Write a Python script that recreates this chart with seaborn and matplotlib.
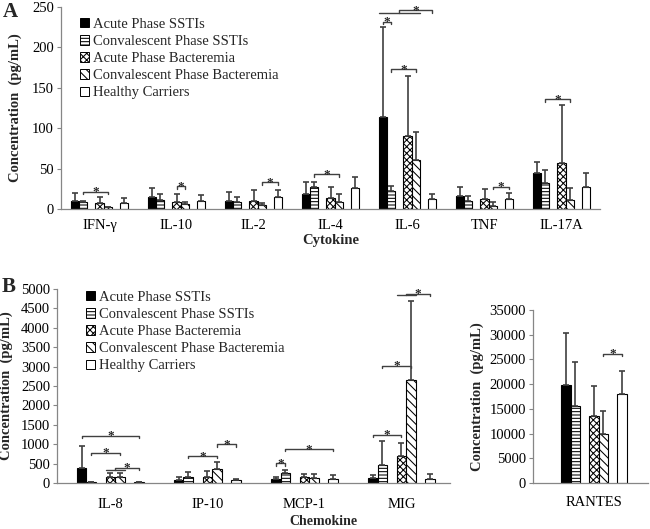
# Citocinas e quimiocinas por grupo clínico - barras com desvio padrão

import numpy as np
import pandas as pd
import seaborn as sns
import matplotlib.pyplot as plt
from matplotlib.patches import Patch


# Grupos (ordem da legenda)
groups = ["Acute Phase SSTIs", "Convalescent Phase SSTIs", "Acute Phase Bacteremia",
          "Convalescent Phase Bacteremia", "Healthy Carriers"]

# Painel A - citocinas (pg/mL), uma linha por grupo
cytokines = ["IFN-γ", "IL-10", "IL-2", "IL-4", "IL-6", "TNF", "IL-17A"]
cyto_mean = [
    [9.5, 14.6, 9.8, 18.5, 113.3, 16.0, 45.0],
    [8.5, 11.0, 9.0, 27.6, 22.2, 9.9, 32.5],
    [7.7, 9.0, 10.0, 14.0, 90.2, 12.0, 56.8],
    [2.0, 6.5, 5.0, 8.2, 60.5, 4.0, 11.0],
    [7.3, 9.8, 15.0, 26.4, 12.4, 12.4, 27.0],
]
cyto_sd = [
    [10.0, 11.0, 11.0, 15.0, 111.7, 11.6, 13.0],
    [1.0, 7.0, 5.6, 5.8, 6.6, 6.1, 15.5],
    [7.0, 9.7, 13.6, 13.6, 74.5, 13.0, 72.2],
    [1.0, 2.0, 3.0, 9.8, 34.2, 5.0, 15.4],
    [6.5, 8.0, 8.6, 13.6, 6.6, 7.0, 17.5],
]
# comparações significativas: (marcador, grupo a, grupo b, altura)
cyto_sig = [(0, 1, 3, 21.5), (1, 2, 3, 28), (2, 3, 4, 33), (3, 1, 3, 42.8),
            (4, 0, 1, 232), (4, 1, 3, 173), (5, 3, 4, 27.6), (6, 1, 3, 136)]
# (marcador, grupos unidos, grupo comparado, altura da linha, altura do colchete)
cyto_joint = [(4, (0, 3), 4, 243, 246)]

# Painel B - quimiocinas (pg/mL)
chemokines = ["IL-8", "IP-10", "MCP-1", "MIG"]
chemo_mean = [
    [385, 68, 103, 120],
    [26, 145, 248, 453],
    [145, 162, 145, 684],
    [145, 359, 120, 2650],
    [26, 77, 103, 103],
]
chemo_sd = [
    [580, 80, 45, 77],
    [5, 130, 85, 633],
    [110, 146, 86, 342],
    [120, 171, 111, 2053],
    [5, 15, 102, 119],
]
chemo_sig = [(0, 0, 4, 1214), (0, 1, 3, 778), (1, 1, 3, 693), (1, 3, 4, 1000),
             (2, 0, 1, 505), (2, 1, 4, 872), (3, 0, 2, 1248), (3, 1, 3, 3018)]
chemo_joint = [(0, (2, 3), 4, 333, 393), (3, (2, 3), 4, 4845, 4880)]

# RANTES
rantes = ["RANTES"]
rantes_mean = [[19800], [15480], [13520], [9870], [17910]]
rantes_sd = [[10600], [9060], [6020], [4660], [4670]]
rantes_sig = [(0, 3, 4, 26100)]


# Estilo
hue_order = [groups[0], groups[1], "gap1", groups[2], groups[3], "gap2", groups[4]]
slot = {0: 0, 1: 1, 2: 3, 3: 4, 4: 6}
palette = {h: "white" for h in hue_order}
palette[groups[0]] = "black"
hatches = ["", "-----", "xxxxx", "\\\\\\\\", ""]
line_c = "#404040"
axis_c = "#868686"

sns.set_theme(style="white")
plt.rcParams["font.family"] = ["Liberation Serif", "DejaVu Serif"]
plt.rcParams["hatch.linewidth"] = 0.75


def draw_panel(ax, markers, means, sds, width):
    df = pd.DataFrame({
        "marker": np.tile(markers, len(groups)),
        "group": np.repeat(groups, len(markers)),
        "value": np.ravel(means),
    })
    sns.barplot(data=df, x="marker", y="value", hue="group", hue_order=hue_order,
                order=markers, palette=palette, width=width, errorbar=None,
                saturation=1, edgecolor="black", linewidth=0.8, legend=False, ax=ax)
    bw = width / len(hue_order)
    inv = {v: k for k, v in slot.items()}
    pos = {}
    for p in ax.patches:
        xc = p.get_x() + p.get_width() / 2
        c = int(round(xc))
        g = inv[int(round((xc - c) / bw + 3))]
        p.set_hatch(hatches[g])
        pos[(c, g)] = xc
    xs = [pos[(c, g)] for g in range(len(groups)) for c in range(len(markers))]
    ys = np.ravel(means)
    ax.errorbar(xs, ys, yerr=[np.zeros(len(ys)), np.ravel(sds)], fmt="none",
                ecolor=line_c, elinewidth=1.2, capsize=2.5, capthick=1.2, zorder=3)
    return pos, bw


def star(ax, x, y):
    ax.annotate("*", (x, y), xytext=(0, -2.5), textcoords="offset points",
                ha="center", va="baseline", fontsize=9.5, fontweight="bold",
                annotation_clip=False)


def brackets(ax, pos, bw, sig, joint):
    tick = 0.012 * ax.get_ylim()[1]
    for c, a, b, y in sig:
        x1, x2 = pos[(c, a)], pos[(c, b)]
        ax.plot([x1, x1, x2, x2], [y - tick, y, y, y - tick], color=line_c, lw=1, clip_on=False)
        star(ax, (x1 + x2) / 2, y)
    for c, (a, b), t, y1, y2 in joint:
        xa, xb = pos[(c, a)] - bw / 2, pos[(c, b)] + bw / 2
        xm, xt = (xa + xb) / 2, pos[(c, t)]
        ax.plot([xa, xb], [y1, y1], color=line_c, lw=1, clip_on=False)
        ax.plot([xm, xm, xt, xt], [y1, y2, y2, y2 - tick], color=line_c, lw=1, clip_on=False)
        star(ax, (xm + xt) / 2, y2)


def style_axis(ax, ymax, step, xpad):
    ax.set_ylim(0, ymax)
    ax.set_yticks(np.arange(0, ymax + 1, step))
    sns.despine(ax=ax)
    for s in ["left", "bottom"]:
        ax.spines[s].set_color(axis_c)
        ax.spines[s].set_linewidth(0.9)
    ax.tick_params(axis="y", left=True, length=3, width=0.8, color=axis_c,
                   labelsize=10.5, pad=2, labelcolor="black")
    ax.tick_params(axis="x", bottom=False, labelsize=10.5, pad=xpad, labelcolor="black")
    ax.set_xlabel("")
    ax.set_ylabel("Concentration  (pg/mL)", fontsize=10.5, fontweight="bold")


fig = plt.figure(figsize=(6.5, 5.29), dpi=100)
W, H = 650, 529

# Painel A
axA = fig.add_axes([61 / W, 1 - 209 / H, 539 / W, 202 / H])
posA, bwA = draw_panel(axA, cytokines, cyto_mean, cyto_sd, 0.75)
axA.set_xlim(-0.5, len(cytokines) - 0.5)
style_axis(axA, 250, 50, 1)
brackets(axA, posA, bwA, cyto_sig, cyto_joint)
axA.set_xlabel("Cytokine", fontsize=10.5, fontweight="bold")
axA.xaxis.set_label_coords(0.5, -0.125)
axA.yaxis.set_label_coords(-0.072, 0.5)

# Painel B - quimiocinas
axB = fig.add_axes([57 / W, 1 - 483 / H, 393 / W, 194 / H])
posB, bwB = draw_panel(axB, chemokines, chemo_mean, chemo_sd, 0.69)
axB.set_xlim(-0.55, len(chemokines) - 0.5)
style_axis(axB, 5000, 500, 5)
brackets(axB, posB, bwB, chemo_sig, chemo_joint)
axB.set_xlabel("Chemokine", fontsize=10, fontweight="bold")
axB.xaxis.set_label_coords(0.677, -0.165)
axB.yaxis.set_label_coords(-0.112, 0.5)

# Painel B - RANTES
axC = fig.add_axes([533 / W, 1 - 483 / H, 115 / W, 173 / H])
posC, bwC = draw_panel(axC, rantes, rantes_mean, rantes_sd, 0.57)
axC.set_xlim(-0.53, 0.47)
style_axis(axC, 35000, 5000, 3)
brackets(axC, posC, bwC, rantes_sig, [])
axC.yaxis.set_label_coords(-0.426, 0.5)

# Legendas
handles = [Patch(facecolor=palette[g], edgecolor="black", hatch=hatches[i], linewidth=0.7)
           for i, g in enumerate(groups)]
for ax, (lx, ly) in [(axA, (80, 18)), (axB, (86, 291))]:
    ax.legend(handles, groups, loc="upper left", bbox_to_anchor=(lx / W, 1 - ly / H),
              bbox_transform=fig.transFigure, frameon=False, fontsize=10.5,
              handlelength=0.6, handleheight=0.6, handletextpad=0.3,
              labelspacing=0.28, borderpad=0, borderaxespad=0)

fig.text(3 / W, 1 - 12 / H, "A", fontsize=15, fontweight="bold", va="center")
fig.text(2 / W, 1 - 287 / H, "B", fontsize=15, fontweight="bold", va="center")

fig.savefig("out.png", dpi=100)
